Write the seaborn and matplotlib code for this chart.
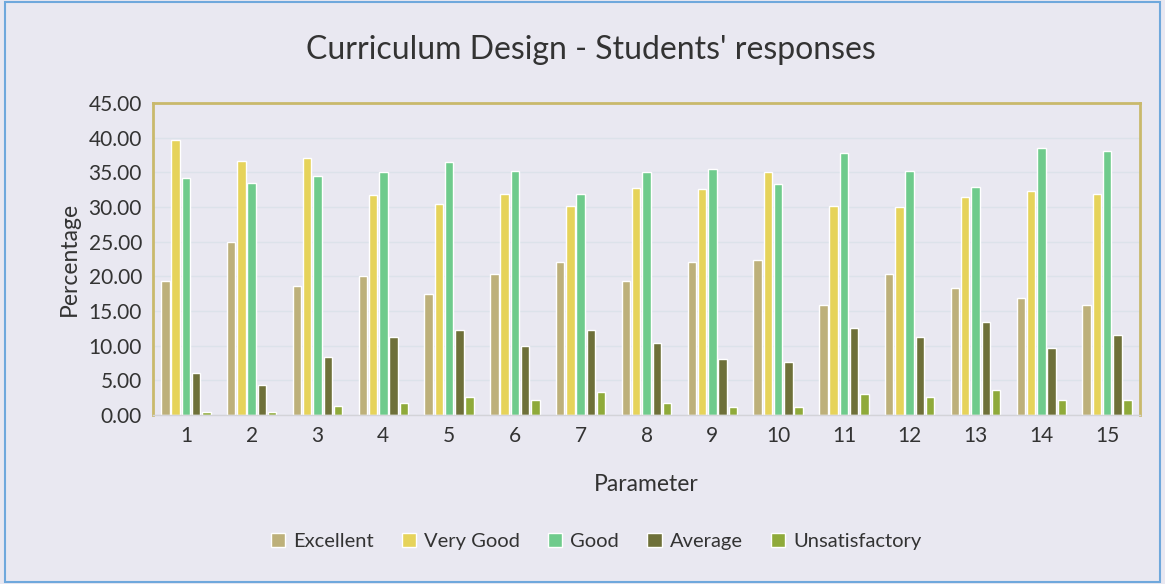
import numpy as np
import pandas as pd
import matplotlib.pyplot as plt
import seaborn as sns
from matplotlib.ticker import FormatStrFormatter

parameters = [str(i) for i in range(1, 16)]
excellent = [19.3, 25.0, 18.6, 20.0, 17.5, 20.3, 22.0, 19.3, 22.1, 22.3, 15.9, 20.4, 18.3, 16.9, 15.8]
very_good = [39.6, 36.6, 37.0, 31.7, 30.5, 31.9, 30.1, 32.8, 32.6, 35.1, 30.2, 30.0, 31.4, 32.3, 31.9]
good = [34.2, 33.4, 34.4, 35.0, 36.5, 35.2, 31.9, 35.1, 35.5, 33.3, 37.8, 35.2, 32.9, 38.5, 38.1]
average = [6.0, 4.3, 8.4, 11.3, 12.3, 9.9, 12.2, 10.4, 8.1, 7.6, 12.6, 11.3, 13.4, 9.6, 11.6]
unsatisfactory = [0.5, 0.4, 1.3, 1.7, 2.6, 2.2, 3.3, 1.7, 1.1, 1.1, 3.0, 2.6, 3.6, 2.1, 2.2]

categories = ["Excellent", "Very Good", "Good", "Average", "Unsatisfactory"]
colors = ["#BDB07A", "#E6D35A", "#6FCB8C", "#6E7039", "#8FAA3A"]

series = [excellent, very_good, good, average, unsatisfactory]
rows = []
for cat, vals in zip(categories, series):
    for p, v in zip(parameters, vals):
        rows.append({"Parameter": p, "Category": cat, "Percentage": v})
df = pd.DataFrame(rows)

sns.set_theme(style="white")
plt.rcParams["font.family"] = ["Lato", "DejaVu Sans"]

bg = "#E9E8F1"
fig = plt.figure(figsize=(11.65, 5.84), dpi=100, facecolor=bg)
ax = fig.add_axes([153 / 1165, 1 - 415 / 584, (1140 - 153) / 1165, (415 - 103) / 584])
ax.set_facecolor(bg)

sns.barplot(data=df, x="Parameter", y="Percentage", hue="Category",
            hue_order=categories, palette=colors, width=0.78, gap=0.18,
            saturation=1, ax=ax)

ax.set_ylim(0, 45)
ax.set_yticks(np.arange(0, 46, 5))
ax.yaxis.set_major_formatter(FormatStrFormatter("%.2f"))
ax.grid(axis="y", color="#DCE2EA", linewidth=1)
ax.set_axisbelow(True)
for side in ["top", "right", "left"]:
    ax.spines[side].set_color("#C9B96C")
    ax.spines[side].set_linewidth(2)
ax.spines["bottom"].set_color("#D3D3D8")
ax.spines["bottom"].set_linewidth(1)
ax.tick_params(axis="both", labelsize=15, colors="#333333", length=0, pad=8)

ax.set_xlabel("Parameter", fontsize=16.5, color="#333333", labelpad=20)
ax.set_ylabel("Percentage", fontsize=16.5, color="#333333", labelpad=6)
fig.text(0.507, 1 - 50 / 584, "Curriculum Design - Students' responses",
         ha="center", va="center", fontsize=23, color="#333333")

ax.legend(loc="upper center", bbox_to_anchor=(0.449, -0.32), ncol=5, frameon=False,
          fontsize=14.5, handlelength=0.7, handleheight=0.7, columnspacing=1.4,
          handletextpad=0.4, labelcolor="#333333")

fig.patches.append(plt.Rectangle((0.004, 0.004), 0.992, 0.992, transform=fig.transFigure,
                                 fill=False, edgecolor="#6FA8DC", linewidth=1.5))

fig.savefig("out.png", dpi=100, facecolor=bg)
